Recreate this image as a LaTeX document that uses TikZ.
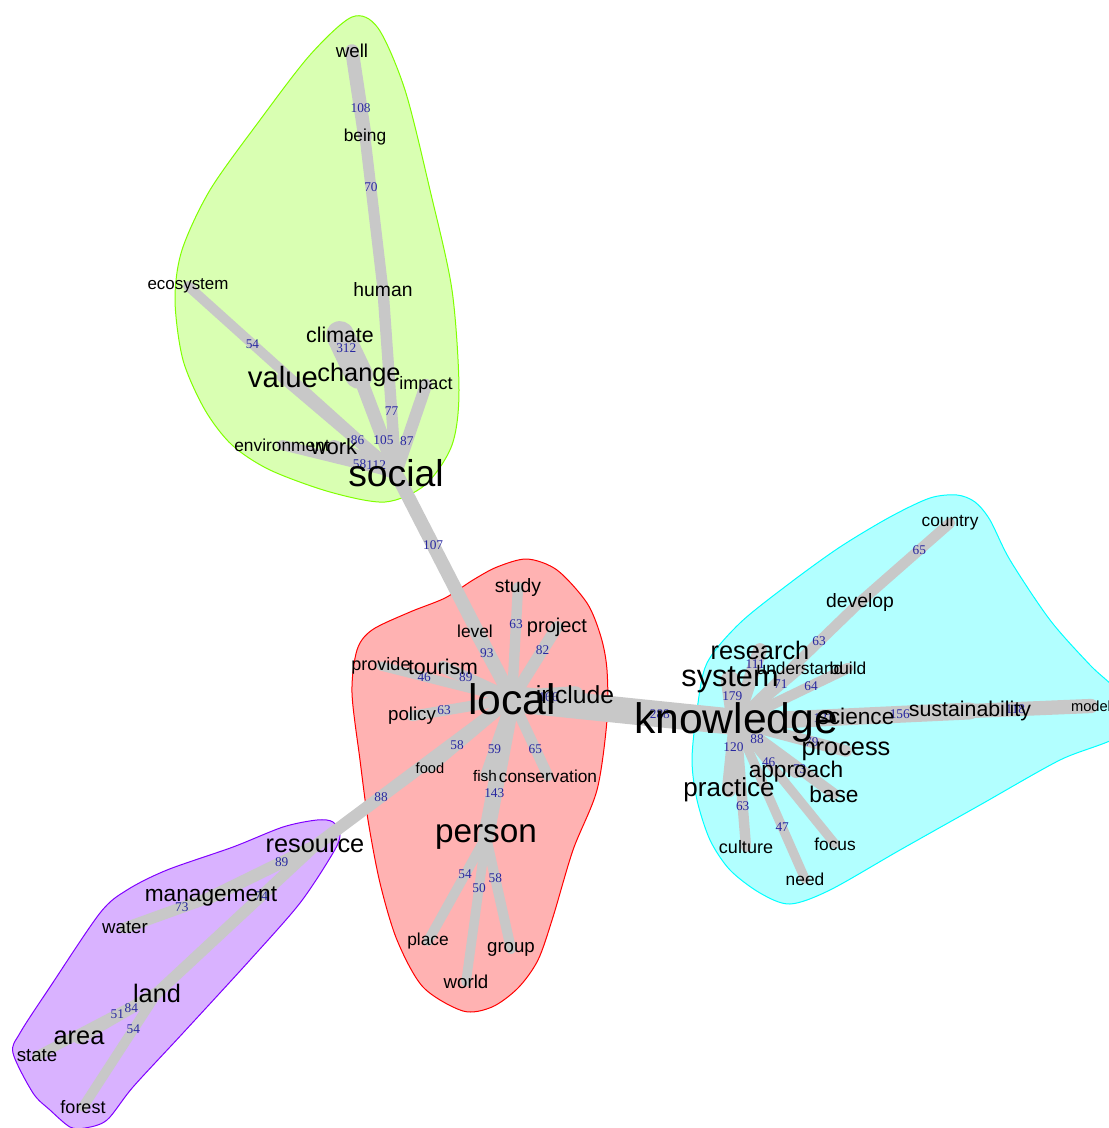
\documentclass[tikz,border=0pt]{standalone}
\usepackage{fontspec}
\setmainfont{Liberation Sans}
\newfontfamily\numfont{Liberation Serif}

\pgfdeclarelayer{hulls}
\pgfdeclarelayer{edges}
\pgfsetlayers{hulls,edges,main}

\definecolor{edgegray}{RGB}{200,200,200}
\definecolor{numblue}{RGB}{40,40,160}
\definecolor{socialfill}{RGB}{217,255,178}
\definecolor{socialline}{RGB}{128,255,0}
\definecolor{localfill}{RGB}{255,178,178}
\definecolor{localline}{RGB}{255,0,0}
\definecolor{knowfill}{RGB}{178,255,255}
\definecolor{knowline}{RGB}{0,255,255}
\definecolor{resfill}{RGB}{217,178,255}
\definecolor{resline}{RGB}{128,0,255}

\tikzset{
  word/.style={font=\fontsize{#1}{#1}\selectfont, inner sep=0pt},
  num/.style={font=\numfont\fontsize{10}{10}\selectfont, text=numblue, inner sep=0pt},
  link/.style={draw=edgegray, line cap=round},
  hull/.style={draw=#1line, fill=#1fill, line width=0.75pt}
}

% from/to/weight/label position
\newcommand\linklist{being/well/108/0.34, being/human/70/0.33, social/human/77/0.34,
  ecosystem/social/54/0.31, social/value/86/0.34, climate/change/312/0.33,
  social/change/105/0.34, social/impact/87/0.36, social/environment/58/0.32,
  social/work/112/0.32, social/local/107/0.32,
  study/local/63/0.33, level/local/93/0.32, project/local/82/0.32,
  provide/local/46/0.33, tourism/local/89/0.33, include/local/166/0.42,
  policy/local/63/0.32, food/local/58/0.33, fish/local/59/0.35,
  conservation/local/65/0.35, person/local/143/0.32, resource/local/88/0.335,
  local/knowledge/288/0.66, person/place/54/0.36, person/world/50/0.35,
  person/group/58/0.37,
  resource/management/89/0.32, management/water/73/0.34, resource/land/74/0.34,
  land/area/84/0.33, land/state/51/0.33, land/forest/54/0.32,
  country/develop/65/0.34, develop/knowledge/63/0.33, system/knowledge/179/0.38,
  research/knowledge/111/0.2, understand/knowledge/71/0.3, build/knowledge/64/0.33,
  science/knowledge/121/0.27, sustainability/knowledge/156/0.30,
  sustainability/model/118/0.375, process/knowledge/79/0.31,
  knowledge/focus/46/0.33, base/knowledge/73/0.35, knowledge/practice/120/0.37,
  knowledge/approach/88/0.35, culture/knowledge/63/0.33, need/knowledge/47/0.33}

\begin{document}
\begin{tikzpicture}[x=0.75pt,y=-0.75pt]
\useasboundingbox (0,0) rectangle (1108,1128);

% social
\node[word=14] (well) at (352,51) {well};
\node[word=13] (being) at (365,137) {being};
\node[word=14.5] (human) at (383,290) {human};
\node[word=12.7] (ecosystem) at (188,286) {ecosystem};
\node[word=16] (climate) at (340,335) {climate};
\node[word=22] (value) at (283,377) {value};
\node[word=19] (change) at (359,375) {change};
\node[word=13.5] (impact) at (426,385) {impact};
\node[word=13] (environment) at (282,445) {environment};
\node[word=16.5] (work) at (334,447) {work};
\node[word=28] (social) at (396,473) {social};

% local
\node[word=32] (local) at (512,699) {local};
\node[word=14.5] (study) at (518,587) {study};
\node[word=13] (level) at (475,631) {level};
\node[word=15] (project) at (557,627) {project};
\node[word=13.5] (provide) at (381,666) {provide};
\node[word=16] (tourism) at (443,667) {tourism};
\node[word=18.5] (include) at (575,695) {include};
\node[word=14] (policy) at (412,716) {policy};
\node[word=11] (food) at (430,768) {food};
\node[word=11.5] (fish) at (485,776) {fish};
\node[word=13] (conservation) at (548,776) {conservation};
\node[word=25] (person) at (486,837) {person};
\node[word=13] (place) at (428,941) {place};
\node[word=14] (world) at (466,982) {world};
\node[word=14] (group) at (511,949) {group};

% resource
\node[word=19] (resource) at (315,846) {resource};
\node[word=17] (management) at (211,897) {management};
\node[word=14] (water) at (125,928) {water};
\node[word=19] (land) at (157,993) {land};
\node[word=19] (area) at (79,1038) {area};
\node[word=14] (state) at (37,1056) {state};
\node[word=13.5] (forest) at (83,1107) {forest};

% knowledge
\node[word=32] (knowledge) at (736,722) {knowledge};
\node[word=13] (country) at (950,523) {country};
\node[word=14.5] (develop) at (860,602) {develop};
\node[word=19] (research) at (760,650) {research};
\node[word=13] (understand) at (800,668) {understand};
\node[word=13] (build) at (848,668) {build};
\node[word=23] (system) at (730,680) {system};
\node[word=17] (science) at (856,716) {science};
\node[word=16] (sustainability) at (970,711) {sustainability};
\node[word=11] (model) at (1091,706) {model};
\node[word=19] (process) at (846,751) {process};
\node[word=17] (approach) at (796,772) {approach};
\node[word=17] (base) at (834,794) {base};
\node[word=19.5] (practice) at (729,790) {practice};
\node[word=13.5] (culture) at (746,847) {culture};
\node[word=13] (focus) at (835,844) {focus};
\node[word=13] (need) at (805,879) {need};

\begin{pgfonlayer}{edges}
\foreach \src/\dst/\wt/\ps in \linklist
  \draw[link, line width={0.75pt*(6+0.07*\wt)}] (\src.center) -- (\dst.center);
\foreach \src/\dst/\wt/\ps in \linklist
  \path (\src.center) -- node[num, pos=\ps] {\wt} (\dst.center);
\end{pgfonlayer}

\begin{pgfonlayer}{hulls}
\draw[hull=social] plot[smooth cycle] coordinates {(352,17) (378,28) (405,90)
  (430,190) (452,290) (459,390) (452,445) (425,485) (385,502) (330,492) (270,470)
  (232,445) (205,410) (183,360) (175,300) (182,250) (210,190) (260,120) (310,55)};
\draw[hull=local] plot[smooth cycle] coordinates {(527,559) (557,570) (587,603)
  (601,637) (607,670) (607,720) (597,790) (573,850) (553,917) (538,960) (518,988)
  (492,1007) (463,1011) (423,987) (397,940) (380,883) (368,820) (360,760)
  (352,693) (357,650) (372,630) (410,612) (445,598) (473,580) (497,567)};
\draw[hull=know] plot[smooth cycle] coordinates {(957,495) (975,502) (990,520)
  (1010,560) (1050,620) (1090,665) (1125,700) (1120,735) (1060,760) (980,805)
  (900,850) (830,890) (790,904) (760,893) (730,870) (710,840) (697,800) (692,760)
  (697,710) (707,663) (740,623) (790,583) (840,547) (890,517) (930,498)};
\draw[hull=res] plot[smooth cycle] coordinates {(317,820) (333,822) (340,835)
  (333,853) (300,903) (250,960) (183,1033) (133,1087) (107,1120) (85,1128)
  (70,1127) (50,1110) (33,1093) (13,1053) (20,1033) (50,987) (100,913) (127,890)
  (167,870) (233,847) (283,827)};
\end{pgfonlayer}
\end{tikzpicture}
\end{document}
